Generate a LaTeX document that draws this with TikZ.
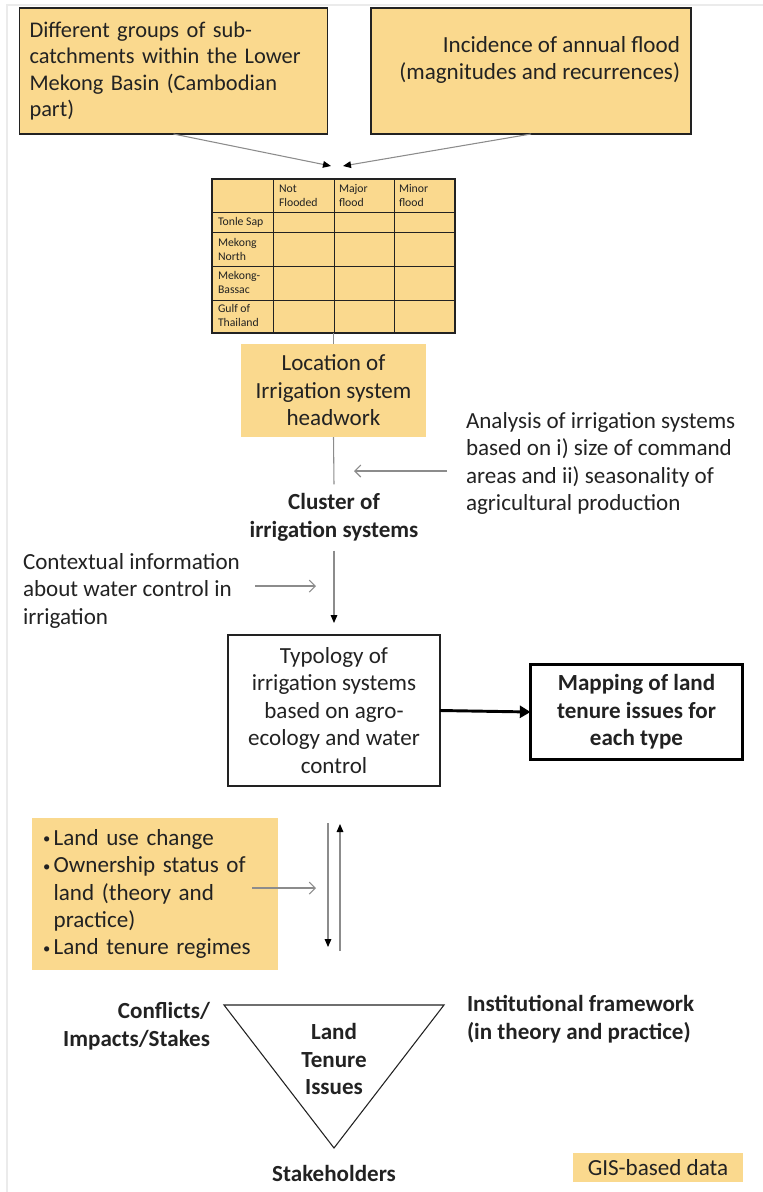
\documentclass[tikz,border=0pt]{standalone}
\usepackage{fontspec}
\setmainfont{Carlito}
\usetikzlibrary{arrows.meta}
\definecolor{yel}{HTML}{FAD98E}
\definecolor{frm}{HTML}{EBEBEB}
\definecolor{arr}{HTML}{8C8C8C}
\definecolor{ink}{HTML}{222222}
\newcommand\mybul{\makebox[8pt][l]{\raisebox{1pt}{\fontsize{11}{11}\selectfont\textbullet}}}
\newcommand\myind{\makebox[8pt]{}}
\begin{document}
\begin{tikzpicture}[x=0.75pt,y=-0.75pt,
  every node/.style={inner sep=0pt, outer sep=0pt, text=ink},
  big/.style={font=\fontsize{17.3}{20.6}\selectfont},
  bigb/.style={font=\fontsize{17.3}{20.6}\selectfont\bfseries},
  small/.style={font=\fontsize{8.8}{10.5}\selectfont, align=left, anchor=west},
  ybox/.style={fill=yel, draw=ink, line width=0.8pt},
  gline/.style={draw=arr, line width=0.8pt},
  garr/.style={draw=arr, line width=0.8pt, -{Triangle[color=black, length=6pt, width=5pt]}},
  oarr/.style={draw=arr, line width=0.8pt, -{Straight Barb[length=4.5pt, width=9pt]}},
]
\useasboundingbox (0,0) rectangle (763,1192);
\draw[frm, line width=1.5pt] (7,1192) -- (7,5) -- (763,5);

% top boxes
\node[ybox, minimum width=231pt, minimum height=94.5pt, text width=216pt, inner xsep=7.5pt, align=left,
      font=\fontsize{16.8}{19.75}\selectfont] (boxA) at (173.5,71)
  {Different groups of sub-\\catchments within the Lower\\Mekong Basin (Cambodian\\part)};
\node[ybox, minimum width=240pt, minimum height=94.5pt] (boxB) at (531,71) {};
\node[big, anchor=east, align=right] (tB) at (680,60)
  {Incidence of annual flood\\(magnitudes and recurrences)};

% table
\node[fill=yel, draw=ink, line width=0.8pt, minimum width=182.25pt, minimum height=115.5pt] (tbl) at (333.5,256) {};
\foreach \cx in {273,334,394} \draw[ink, line width=0.7pt] (\cx,179) -- (\cx,333);
\foreach \ry in {212,232,266,300} \draw[ink, line width=0.7pt] (212,\ry) -- (455,\ry);
\node[small] (hNF) at (279,196) {Not\\Flooded};
\node[small] (hMa) at (339,196) {Major\\flood};
\node[small] (hMi) at (399,196) {Minor\\flood};
\node[small] (rTS) at (218,222) {Tonle Sap};
\node[small] (rMN) at (218,249) {Mekong\\North};
\node[small] (rMB) at (218,282.5) {Mekong-\\Bassac};
\node[small] (rGT) at (218,315.5) {Gulf of\\Thailand};

\coordinate (inA) at (331,166);
\coordinate (inB) at (343,166);
\draw[garr] (boxA.south) -- (inA);
\draw[garr] (boxB.south) -- (inB);

% location
\node[fill=yel, big, align=center, minimum width=138.75pt, minimum height=69.75pt] (loc) at (333.5,390.5)
  {Location of\\Irrigation system\\headwork};
\draw[gline] (tbl.south) -- (loc.north);

\node[bigb, align=center, inner ysep=7pt] (clu) at (334,517.5) {Cluster of\\irrigation systems};
\draw[gline] (loc.south) -- (clu.north);

\node[big, align=left, anchor=west] (ana) at (466,463.5)
  {Analysis of irrigation systems\\based on i) size of command\\areas and ii) seasonality of\\agricultural production};
\coordinate (anaS) at (447,471);
\coordinate (anaE) at (354,471);
\draw[oarr] (anaS) -- (anaE);

\node[big, align=left, anchor=west] (ctx) at (23,590.5)
  {Contextual information\\about water control in\\irrigation};
\coordinate (ctxS) at (255,586);
\coordinate (ctxE) at (316,586);
\draw[oarr] (ctxS) -- (ctxE);

% typology
\node[draw=ink, line width=0.8pt, fill=white, big, align=center, minimum width=159pt, minimum height=113.25pt] (typo) at (334,710.5)
  {Typology of\\irrigation systems\\based on agro-\\ecology and water\\control};
\draw[garr, shorten >=9pt] (clu.south) -- (typo.north);

\node[draw=black, line width=2.2pt, bigb, align=center, minimum width=159pt, minimum height=71.25pt] (map) at (636.5,712)
  {Mapping of land\\tenure issues for\\each type};
\draw[black, line width=2.2pt, -{Triangle[length=8pt, width=9pt]}] (typo.east) -- (map.west);

% bullets
\node[fill=yel, big, align=left, minimum width=184.5pt, minimum height=114pt, text width=168pt, inner xsep=8.25pt] (bul) at (155,894)
  {\mybul Land use change\\\mybul Ownership status of\\\myind land (theory and\\\myind practice)\\\mybul Land tenure regimes};
\coordinate (bulS) at (252,888);
\coordinate (bulE) at (316,888);
\draw[oarr] (bulS) -- (bulE);

\coordinate (dnS) at (328,823);
\coordinate (dnE) at (328,947);
\coordinate (upS) at (340,951);
\coordinate (upE) at (340,824);
\draw[garr] (dnS) -- (dnE);
\draw[garr] (upS) -- (upE);

% triangle
\coordinate (t1) at (224,1005);
\coordinate (t2) at (444,1005);
\coordinate (t3) at (334,1148);
\draw[ink, line width=0.8pt, fill=white] (t1) -- (t2) -- (t3) -- cycle;
\node[bigb, align=center] (lti) at (334,1059) {Land\\Tenure\\Issues};
\node[bigb, align=right, anchor=east] (conf) at (210,1026) {Conflicts/\\Impacts/Stakes};
\node[bigb, align=left, anchor=west] (inst) at (467,1019) {Institutional framework\\(in theory and practice)};
\node[bigb] (stk) at (334,1173) {Stakeholders};

\node[fill=yel, big, minimum width=127.5pt, minimum height=21.75pt] (gis) at (658,1167.5) {GIS-based data};
\end{tikzpicture}
\end{document}
